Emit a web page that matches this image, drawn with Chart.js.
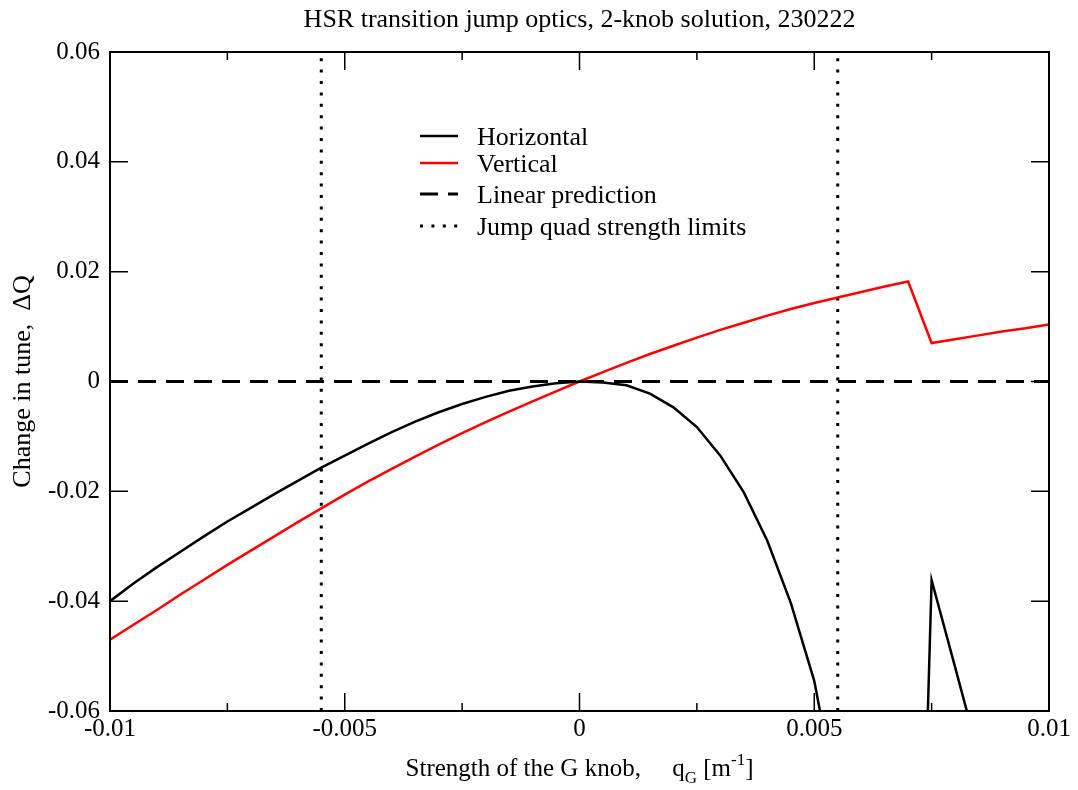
<!DOCTYPE html>
<html>
<head>
<meta charset="utf-8">
<script src="https://cdn.jsdelivr.net/npm/chart.js@4.4.0/dist/chart.umd.min.js"></script>
<style>
  html, body { margin: 0; padding: 0; background: #fff; }
  #wrap { width: 1078px; height: 790px; }
</style>
</head>
<body>
<div id="wrap"><canvas id="chart" width="1078" height="790"></canvas></div>
<script>
// --- data
const qG = [
  -0.01, -0.0095, -0.009, -0.0085, -0.008, -0.0075, -0.007, -0.0065, -0.006, -0.0055,
  -0.005, -0.0045, -0.004, -0.0035, -0.003, -0.0025, -0.002, -0.0015, -0.001, -0.0005,
  0, 0.0005, 0.001, 0.0015, 0.002, 0.0025, 0.003, 0.0035, 0.004, 0.0045,
  0.005, 0.0055, 0.006, 0.0065, 0.007, 0.0075, 0.008, 0.0085, 0.009, 0.0095, 0.01
];
const horizontal = [
  -0.0400, -0.0368, -0.0338, -0.0310, -0.0282, -0.0255, -0.0230, -0.0205, -0.0181, -0.0157,
  -0.0135, -0.0113, -0.0092, -0.0073, -0.0056, -0.0041, -0.0028, -0.0017, -0.0009, -0.0003,
  0, -0.0002, -0.0007, -0.0022, -0.0047, -0.0083, -0.0135, -0.0202, -0.0290, -0.0403,
  -0.0545, -0.077, -0.100, -0.130, -0.185, -0.0362, -0.052, -0.068, -0.085, -0.100, -0.120
];
const vertical = [
  -0.0470, -0.0443, -0.0416, -0.0388, -0.0361, -0.0334, -0.0308, -0.0282, -0.0256, -0.0231,
  -0.0206, -0.0182, -0.0159, -0.0137, -0.0115, -0.0094, -0.0074, -0.0055, -0.0036, -0.0018,
  0, 0.0017, 0.0034, 0.0050, 0.0065, 0.0080, 0.0094, 0.0107, 0.0120, 0.0132,
  0.0143, 0.0153, 0.0163, 0.0173, 0.0182, 0.0070, 0.0077, 0.0084, 0.0091, 0.0097, 0.0104
];
const linearX = [-0.01, 0.01];
const linearY = [0, 0];
const limitLowX = [-0.0055, -0.0055];
const limitHighX = [0.0055, 0.0055];
const limitY = [-0.06, 0.06];

const xTicks = [-0.01, -0.005, 0, 0.005, 0.01];
const xTickLabels = ['-0.01', '-0.005', '0', '0.005', '0.01'];
const xMinorTicks = [-0.0075, -0.0025, 0.0025, 0.0075];
const yTicks = [-0.06, -0.04, -0.02, 0, 0.02, 0.04, 0.06];
const yTickLabels = ['-0.06', '-0.04', '-0.02', '0', '0.02', '0.04', '0.06'];

const seriesNames = ['Horizontal', 'Vertical', 'Linear prediction', 'Jump quad strength limits'];
const chartTitle = 'HSR transition jump optics, 2-knob solution, 230222';

// --- helpers
const SERIF = '"Liberation Serif", "Times New Roman", serif';
const pts = (xs, ys) => xs.map((v, i) => ({ x: v, y: ys[i] }));

// draws frame, inward ticks, titles and the in-plot legend (Grace look)
const gracePlot = {
  id: 'gracePlot',
  afterDatasetsDraw(chart) {
    const { ctx, chartArea: a } = chart;
    const xs = chart.scales.x, ys = chart.scales.y;
    ctx.save();

    // frame
    ctx.strokeStyle = '#000';
    ctx.lineWidth = 2;
    ctx.setLineDash([]);
    ctx.strokeRect(a.left, a.top, a.right - a.left, a.bottom - a.top);

    // ticks, pointing into the plot
    ctx.lineWidth = 1.5;
    ctx.beginPath();
    const xt = (v, len) => {
      const p = xs.getPixelForValue(v);
      ctx.moveTo(p, a.bottom); ctx.lineTo(p, a.bottom - len);
      ctx.moveTo(p, a.top); ctx.lineTo(p, a.top + len);
    };
    xTicks.forEach(v => xt(v, 18));
    xMinorTicks.forEach(v => xt(v, 8));
    yTicks.forEach(v => {
      const p = ys.getPixelForValue(v);
      ctx.moveTo(a.left, p); ctx.lineTo(a.left + 18, p);
      ctx.moveTo(a.right, p); ctx.lineTo(a.right - 18, p);
    });
    ctx.stroke();

    ctx.fillStyle = '#000';
    const cx = (a.left + a.right) / 2;

    // title
    ctx.font = '26px ' + SERIF;
    ctx.textAlign = 'center';
    ctx.textBaseline = 'alphabetic';
    ctx.fillText(chartTitle, cx, 27);

    // x axis title with sub/superscripts
    const big = '25px ' + SERIF, small = '17px ' + SERIF;
    const parts = [
      { t: 'Strength of the G knob,', f: big, dy: 0 },
      { t: '\u2003 ', f: big, dy: 0 },
      { t: 'q', f: big, dy: 0 },
      { t: 'G', f: small, dy: 7 },
      { t: ' [m', f: big, dy: 0 },
      { t: '-1', f: small, dy: -11 },
      { t: ']', f: big, dy: 0 }
    ];
    let total = 0;
    parts.forEach(p => { ctx.font = p.f; p.w = ctx.measureText(p.t).width; total += p.w; });
    let px = cx - total / 2;
    ctx.textAlign = 'left';
    parts.forEach(p => { ctx.font = p.f; ctx.fillText(p.t, px, 776 + p.dy); px += p.w; });

    // y axis title
    ctx.save();
    ctx.translate(30, (a.top + a.bottom) / 2);
    ctx.rotate(-Math.PI / 2);
    ctx.font = '26px ' + SERIF;
    ctx.textAlign = 'center';
    ctx.fillText('Change in tune,  \u0394Q', 0, 0);
    ctx.restore();

    // legend, styled from the datasets
    const rows = [136, 163, 194, 226];
    chart.data.datasets.slice(0, 4).forEach((ds, i) => {
      const y = rows[i];
      ctx.strokeStyle = ds.borderColor;
      ctx.lineWidth = ds.borderWidth;
      ctx.setLineDash(ds.borderDash || []);
      ctx.beginPath();
      ctx.moveTo(420, y); ctx.lineTo(458, y);
      ctx.stroke();
      ctx.setLineDash([]);
      ctx.font = '26px ' + SERIF;
      ctx.textAlign = 'left';
      ctx.fillText(ds.label, 477, y + 9);
    });
    ctx.restore();
  }
};

new Chart(document.getElementById('chart'), {
  type: 'scatter',
  data: {
    datasets: [
      { label: seriesNames[0], data: pts(qG, horizontal), showLine: true, borderColor: '#000', borderWidth: 2.5, pointRadius: 0, tension: 0, clip: 0 },
      { label: seriesNames[1], data: pts(qG, vertical), showLine: true, borderColor: '#ff0000', borderWidth: 2.5, pointRadius: 0, tension: 0, clip: 0 },
      { label: seriesNames[2], data: pts(linearX, linearY), showLine: true, borderColor: '#000', borderWidth: 3, borderDash: [18, 10], pointRadius: 0, clip: 0 },
      { label: seriesNames[3], data: pts(limitLowX, limitY), showLine: true, borderColor: '#000', borderWidth: 3, borderDash: [3, 8.4], pointRadius: 0, clip: 0 },
      { label: seriesNames[3] + ' (upper)', data: pts(limitHighX, limitY), showLine: true, borderColor: '#000', borderWidth: 3, borderDash: [3, 8.4], pointRadius: 0, clip: 0 }
    ]
  },
  options: {
    responsive: false,
    animation: false,
    layout: { padding: { left: 0, right: 29, top: 52, bottom: 0 } },
    plugins: { legend: { display: false }, tooltip: { enabled: false }, title: { display: false } },
    scales: {
      x: {
        type: 'linear', min: -0.01, max: 0.01,
        grid: { display: false, drawTicks: false },
        border: { display: false },
        afterBuildTicks: s => { s.ticks = xTicks.map(v => ({ value: v })); },
        afterFit: s => { s.height = 79; },
        ticks: {
          autoSkip: false, maxRotation: 0, padding: 3, color: '#000',
          font: { family: SERIF, size: 25 },
          callback: (v, i) => xTickLabels[i]
        }
      },
      y: {
        type: 'linear', min: -0.06, max: 0.06,
        grid: { display: false, drawTicks: false },
        border: { display: false },
        afterBuildTicks: s => { s.ticks = yTicks.map(v => ({ value: v })); },
        afterFit: s => { s.width = 110; },
        ticks: {
          autoSkip: false, padding: 10, color: '#000',
          font: { family: SERIF, size: 25 },
          callback: (v, i) => yTickLabels[i]
        }
      }
    }
  },
  plugins: [gracePlot]
});
</script>
</body>
</html>
